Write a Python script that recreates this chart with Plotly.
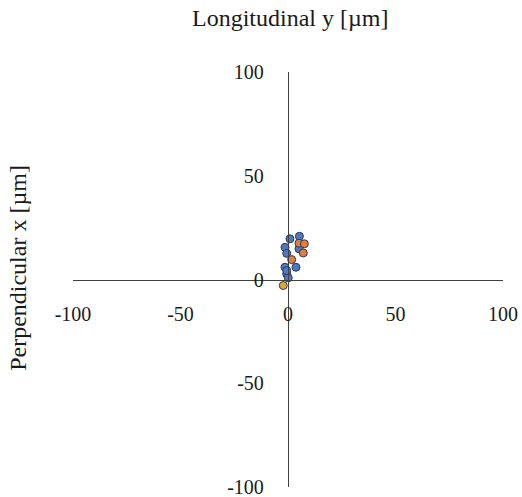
import plotly.graph_objects as go

# Data: Longitudinal y (horizontal), Perpendicular x (vertical), in µm
blue_y = [0.9, 5.3, -1.4, -0.6, 5.1, -1.4, 3.7, -0.6, 0.1, -0.6]
blue_x = [19.6, 20.8, 15.5, 12.6, 14.8, 5.9, 5.9, 2.7, 0.8, 4.3]
orange_y = [5.1, 7.6, 7.1, 1.7]
orange_x = [17.5, 17.2, 12.8, 9.6]
yellow_y = [-2.2]
yellow_x = [-2.9]

tick_vals = [-100, -50, 0, 50, 100]
tick_text = ["-100", "-50", "0", "50", "100"]

FONT = "Liberation Serif"
edge = "#2b3a5c"

fig = go.Figure()
for xs, ys, col in [(blue_y, blue_x, "#4F78C0"),
                    (orange_y, orange_x, "#E07F3C"),
                    (yellow_y, yellow_x, "#D9A83A")]:
    fig.add_trace(go.Scatter(
        x=xs, y=ys, mode="markers",
        marker=dict(size=8, color=col, line=dict(color=edge, width=1)),
        showlegend=False, hoverinfo="skip"))

axis_common = dict(
    range=[-100, 100], showgrid=False, zeroline=False,
    showline=True, linecolor="#404040", linewidth=1.3,
    ticks="outside", tickcolor="rgba(0,0,0,0)",
    tickvals=tick_vals, ticktext=tick_text,
    tickfont=dict(family=FONT, size=20, color="#1a1a1a"),
    anchor="free", position=0.5, fixedrange=True,
    ticklabeloverflow="allow", automargin=False,
)

fig.update_layout(
    width=522, height=497,
    margin=dict(l=73, r=19, t=72, b=10, autoexpand=False),
    paper_bgcolor="white", plot_bgcolor="white",
    font=dict(family=FONT),
    xaxis=dict(**axis_common, ticklen=16),
    yaxis=dict(**axis_common, ticklen=20),
    annotations=[
        dict(text="Longitudinal y [µm]", xref="paper", yref="paper",
             x=0.505, y=1.130, xanchor="center", yanchor="middle",
             showarrow=False, font=dict(family=FONT, size=24, color="#1a1a1a")),
        dict(text="Perpendicular x [µm]", xref="paper", yref="paper",
             x=-0.128, y=0.528, xanchor="center", yanchor="middle",
             textangle=-90,
             showarrow=False, font=dict(family=FONT, size=24, color="#1a1a1a")),
    ],
)

fig.write_html("out.html")
